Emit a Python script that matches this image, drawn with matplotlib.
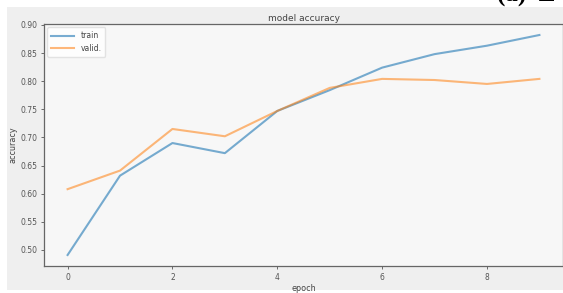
import matplotlib
matplotlib.use("Agg")
import matplotlib.pyplot as plt
from matplotlib.patches import Rectangle

epochs = [0, 1, 2, 3, 4, 5, 6, 7, 8, 9]
train = [0.491, 0.632, 0.690, 0.672, 0.747, 0.784, 0.824, 0.848, 0.863, 0.882]
valid = [0.608, 0.641, 0.715, 0.702, 0.747, 0.788, 0.804, 0.802, 0.795, 0.804]
xticks = [0, 2, 4, 6, 8]
yticks = [0.50, 0.55, 0.60, 0.65, 0.70, 0.75, 0.80, 0.85, 0.90]

W, H = 563, 293
fig = plt.figure(figsize=(W / 100, H / 100), dpi=100, facecolor="white")
fig.patches.append(Rectangle((7 / W, 3 / H), 1 - 7 / W, (290 - 7) / H,
                             transform=fig.transFigure, facecolor="#efefef",
                             edgecolor="none", zorder=-10))

ax = fig.add_axes([44 / W, (H - 266) / H, (W - 44) / W, (266 - 24) / H])
ax.set_facecolor("#f7f7f7")
ax.plot(epochs, train, color="#1f77b4", alpha=0.6, lw=1.5, label="train")
ax.plot(epochs, valid, color="#ff7f0e", alpha=0.55, lw=1.5, label="valid.")
ax.set_xticks(xticks)
ax.set_xticklabels([str(t) for t in xticks])
ax.set_yticks(yticks)
ax.set_yticklabels([f"{t:.2f}" for t in yticks])
ax.set_xlim(-0.45, 9.45)
ax.tick_params(labelsize=5.5, colors="#555555", length=2.5, width=0.6, pad=2.5)
for s in ax.spines.values():
    s.set_color("#666666")
    s.set_linewidth(0.9)
ax.set_title("model accuracy", fontsize=6.5, color="#444444", pad=2)
ax.set_xlabel("epoch", fontsize=5.75, color="#444444", labelpad=1.5)
ax.set_ylabel("accuracy", fontsize=5.75, color="#444444", labelpad=2)
leg = ax.legend(loc="upper left", fontsize=5.5, frameon=True, handlelength=3.0,
                borderpad=0.55, labelspacing=0.45, borderaxespad=0.4)
leg.get_frame().set_facecolor("white")
leg.get_frame().set_edgecolor("#dddddd")
for t in leg.get_texts():
    t.set_color("#444444")

fig.text(497 / W, 0.993, "(a)  E", fontsize=18, family="Liberation Serif",
         weight="bold", ha="left", va="baseline", color="black")

fig.savefig("out.png", dpi=100, facecolor=fig.get_facecolor())
